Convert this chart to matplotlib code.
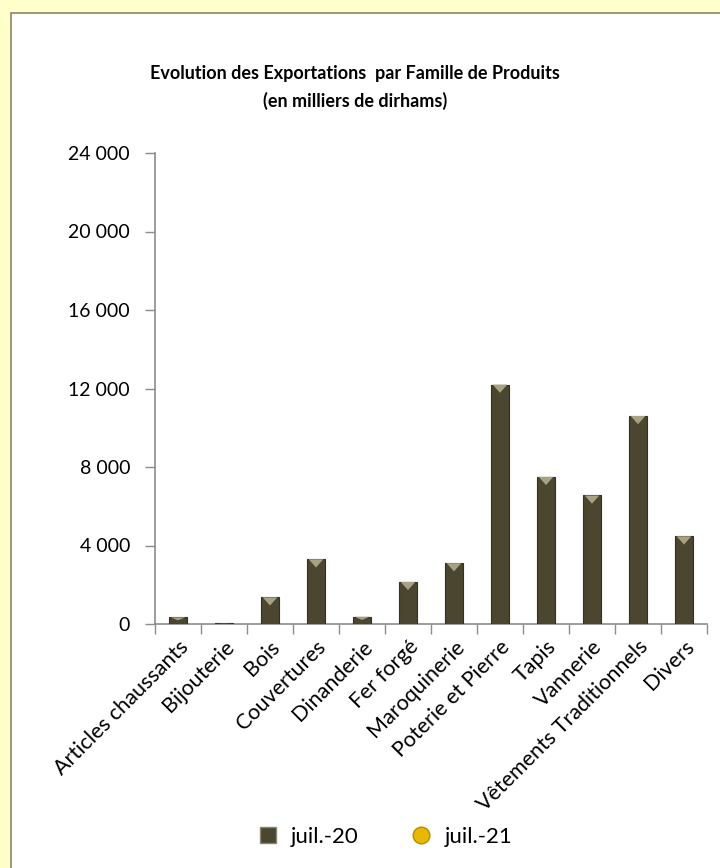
import matplotlib
matplotlib.use("Agg")
import matplotlib.pyplot as plt
from matplotlib.lines import Line2D
from matplotlib.patches import Rectangle, Polygon
from matplotlib.ticker import FixedLocator, FuncFormatter

plt.rcParams["font.family"] = ["Lato", "DejaVu Sans"]

# données (en milliers de dirhams)
categories = [
    "Articles chaussants", "Bijouterie", "Bois", "Couvertures", "Dinanderie",
    "Fer forgé", "Maroquinerie", "Poterie et Pierre", "Tapis", "Vannerie",
    "Vêtements Traditionnels", "Divers",
]
juil_20 = [340, 30, 1360, 3300, 370, 2150, 3100, 12200, 7500, 6550, 10600, 4470]
juil_21 = []  # aucune valeur visible
yticks = [0, 4000, 8000, 12000, 16000, 20000, 24000]

BAR = "#4b4630"
EDGE = "#34311f"
BEVEL = "#a7a283"
AXIS = "#8c8c8c"

fig = plt.figure(figsize=(7.2, 8.68), dpi=100)
fig.patch.set_facecolor("#ffffcc")

# cadre blanc du graphique
fig.patches.append(Rectangle((10.5 / 720, -0.05), 1.0, 1 - 12.5 / 868 + 0.05,
                             transform=fig.transFigure, facecolor="white",
                             edgecolor="#8a8560", linewidth=1.2, zorder=-5))

ax = fig.add_axes([155 / 720, 1 - 624 / 868, 552 / 720, 471 / 868])
ax.set_facecolor("none")

x = list(range(len(categories)))
bars = ax.bar(x, juil_20, width=0.4, color=BAR, edgecolor=EDGE, linewidth=0.8, zorder=3)

# petit biseau en haut des barres
for b in bars:
    v = b.get_height()
    h = min(420, v * 0.45)
    x0, w = b.get_x(), b.get_width()
    tri = Polygon([(x0 + w * 0.1, v), (x0 + w * 0.9, v), (x0 + w * 0.5, v - h)],
                  closed=True, facecolor=BEVEL, edgecolor="none", zorder=4)
    ax.add_patch(tri)

ax.plot(x[:len(juil_21)], juil_21, "o", color="#e8b800")

ax.set_xlim(-0.5, len(categories) - 0.5)
ax.set_ylim(0, 24000)
ax.yaxis.set_major_locator(FixedLocator(yticks))
ax.yaxis.set_major_formatter(FuncFormatter(lambda v, p: f"{v:,.0f}".replace(",", " ")))

ax.set_xticks(x)
ax.set_xticklabels(categories, rotation=45, ha="right", rotation_mode="anchor")
ax.set_xticks([i + 0.5 for i in range(-1, len(categories))], minor=True)
ax.tick_params(axis="x", which="major", length=0, pad=9, labelsize=15.5)
ax.tick_params(axis="x", which="minor", length=7, color=AXIS, width=1)
ax.tick_params(axis="y", length=7, color=AXIS, width=1, labelsize=14, pad=11)

for s in ["top", "right"]:
    ax.spines[s].set_visible(False)
for s in ["left", "bottom"]:
    ax.spines[s].set_color(AXIS)
    ax.spines[s].set_linewidth(1.2)

fig.text(355 / 720, 1 - 73 / 868, "Evolution des Exportations  par Famille de Produits",
         ha="center", va="center", fontsize=13, fontweight="bold")
fig.text(355 / 720, 1 - 101 / 868, "(en milliers de dirhams)",
         ha="center", va="center", fontsize=13, fontweight="bold")

handles = [
    Line2D([], [], marker="s", linestyle="none", markersize=11,
           markerfacecolor=BAR, markeredgecolor="#8a8670"),
    Line2D([], [], marker="o", linestyle="none", markersize=12,
           markerfacecolor="#e8b800", markeredgecolor="#b38c00"),
]
fig.legend(handles, ["juil.-20", "juil.-21"], loc="center",
           bbox_to_anchor=(379 / 720, 1 - 837 / 868), ncol=2, frameon=False,
           fontsize=16, handletextpad=0.05, columnspacing=1.8)

fig.savefig("out.png", dpi=100, facecolor=fig.get_facecolor())
